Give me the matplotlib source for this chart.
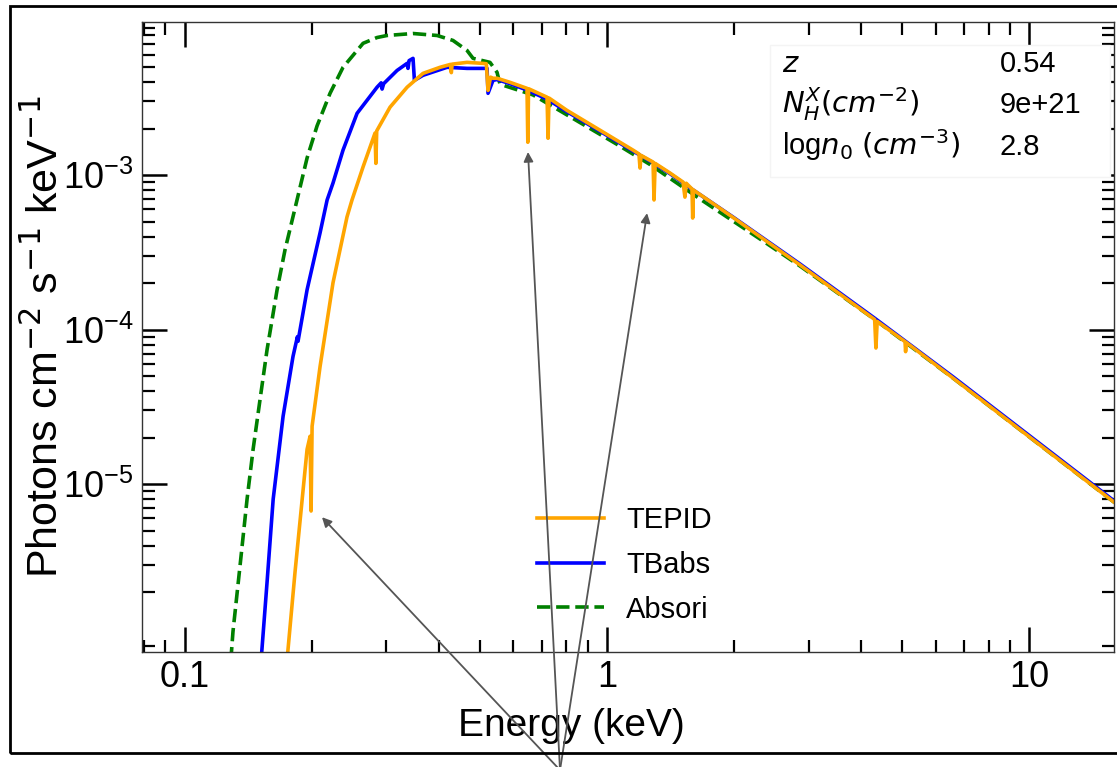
import matplotlib
matplotlib.use('Agg')
import matplotlib.pyplot as plt
from matplotlib.patches import Rectangle
from matplotlib import ticker

plt.rcParams['font.family'] = ['Liberation Sans', 'DejaVu Sans']

# ---------------- data ----------------
absori_E = [0.1267, 0.1302, 0.1353, 0.1406, 0.1453, 0.1509, 0.1568, 0.1656, 0.1729,
            0.1846, 0.1950, 0.2059, 0.2210, 0.2372, 0.2646, 0.2855, 0.3015, 0.3474,
            0.3960, 0.4319, 0.4663, 0.4818, 0.5284, 0.5491, 0.558, 0.668, 0.877,
            1.056, 1.264, 1.660, 2.391, 2.862, 4.309, 6.59, 15.85, 16.2]
absori_F = [4.1e-7, 1.11e-6, 2.96e-6, 8.0e-6, 1.68e-5, 3.53e-5, 7.43e-5, 1.81e-4, 3.28e-4,
            6.9e-4, 1.29e-3, 2.08e-3, 3.38e-3, 4.98e-3, 7.12e-3, 7.76e-3, 8.0e-3, 8.24e-3,
            8.0e-3, 7.43e-3, 6.4e-3, 5.69e-3, 5.36e-3, 4.62e-3, 3.87e-3, 3.3e-3, 2.13e-3,
            1.58e-3, 1.17e-3, 7.0e-4, 3.6e-4, 2.58e-4, 1.159e-4, 4.86e-5, 7.65e-6, 7.31e-6]

tbabs_E = [0.1493, 0.1525, 0.1568, 0.1621, 0.1711, 0.1806, 0.1850, 0.1856, 0.1950,
           0.2093, 0.2175, 0.2246, 0.2372, 0.2561, 0.2855, 0.2920, 0.2935, 0.2960,
           0.3184, 0.3363, 0.3380, 0.3400, 0.3474, 0.3500, 0.3668, 0.4182, 0.4663,
           0.5200, 0.5228, 0.5372, 0.5491, 0.5895, 0.6465, 0.7211, 0.804, 0.9626,
           1.152, 1.285, 1.41, 1.589, 1.987, 2.862, 4.309, 6.59, 15.85, 16.2]
tbabs_F = [4.1e-7, 8.6e-7, 2.33e-6, 8.0e-6, 2.75e-5, 6.7e-5, 9.0e-5, 8.4e-5, 1.81e-4,
           4.23e-4, 6.9e-4, 8.88e-4, 1.45e-3, 2.51e-3, 3.70e-3, 3.95e-3, 3.6e-3, 3.9e-3,
           4.75e-3, 5.28e-3, 4.9e-3, 5.5e-3, 5.69e-3, 4.1e-3, 4.42e-3, 4.98e-3, 4.9e-3,
           4.9e-3, 3.38e-3, 4.1e-3, 4.15e-3, 3.9e-3, 3.55e-3, 3.1e-3, 2.57e-3, 1.92e-3,
           1.43e-3, 1.20e-3, 1.02e-3, 8.1e-4, 5.35e-4, 2.66e-4, 1.18e-4, 4.95e-5, 7.8e-6, 7.45e-6]

tepid_E = [0.1715, 0.1758, 0.1826, 0.1950, 0.1982, 0.1993, 0.2004, 0.2093, 0.2246,
           0.2424, 0.2491, 0.2646, 0.2824, 0.2837, 0.2850, 0.3065, 0.3363, 0.3668,
           0.4025, 0.4260, 0.4280, 0.4300, 0.4663, 0.5087, 0.5180, 0.5228, 0.5300,
           0.5372, 0.5491, 0.5895, 0.6465, 0.6494, 0.6520, 0.7211, 0.7251, 0.7290,
           0.804, 0.9626, 1.152, 1.190, 1.197, 1.204, 1.285, 1.292, 1.300, 1.410,
           1.513, 1.529, 1.540, 1.589, 1.595, 1.602, 1.851, 1.987, 2.862, 4.300,
           4.330, 4.360, 5.074, 5.090, 5.110, 6.59, 15.85, 16.2]
tepid_F = [4.1e-7, 8.6e-7, 2.70e-6, 1.68e-5, 2.04e-5, 6.7e-6, 2.37e-5, 5.77e-5, 2.01e-4,
           5.36e-4, 6.9e-4, 1.13e-3, 1.87e-3, 1.19e-3, 1.93e-3, 2.75e-3, 3.70e-3, 4.55e-3,
           4.98e-3, 5.2e-3, 4.6e-3, 5.22e-3, 5.36e-3, 5.28e-3, 5.25e-3, 3.53e-3, 4.3e-3,
           4.23e-3, 4.23e-3, 3.98e-3, 3.64e-3, 1.63e-3, 3.62e-3, 3.19e-3, 1.73e-3, 3.15e-3,
           2.62e-3, 1.95e-3, 1.45e-3, 1.37e-3, 1.11e-3, 1.34e-3, 1.214e-3, 6.9e-4, 1.19e-3, 1.03e-3,
           9.01e-4, 7.2e-4, 8.85e-4, 8.12e-4, 5.27e-4, 8.0e-4, 6.09e-4, 5.32e-4, 2.62e-4, 1.163e-4,
           7.6e-5, 1.13e-4, 8.36e-5, 7.2e-5, 8.25e-5, 4.86e-5, 7.65e-6, 7.31e-6]

series_labels = ['TEPID', 'TBabs', 'Absori']

param_names = ['$z$', '$N_H^X(cm^{-2})$', 'log$n_0$ $(cm^{-3})$']
param_values = ['0.54', '9e+21', '2.8']

arrow_E = [0.2115, 0.650, 1.244]
arrow_F = [6.11e-6, 1.41e-3, 5.67e-4]

x_ticks = [0.1, 1, 10]
y_ticks = [1e-5, 1e-4, 1e-3]

# ---------------- figure ----------------
W, H = 1117, 767
fig = plt.figure(figsize=(W / 100, H / 100), dpi=100)
ax = fig.add_axes([142 / W, 1 - 652 / H, (1114 - 142) / W, (652 - 22) / H])

l_abs, = ax.plot(absori_E, absori_F, color='green', lw=2.6, ls='--', zorder=2.0, label=series_labels[2])
l_tb, = ax.plot(tbabs_E, tbabs_F, color='blue', lw=2.6, zorder=2.05, label=series_labels[1])
l_te, = ax.plot(tepid_E, tepid_F, color='orange', lw=2.6, zorder=2.1, label=series_labels[0])

ax.set_xscale('log')
ax.set_yscale('log')
ax.set_xlim(0.0793, 15.85)
ax.set_ylim(8.2e-7, 9.78e-3)

ax.xaxis.set_major_locator(ticker.FixedLocator(x_ticks))
ax.xaxis.set_major_formatter(ticker.FuncFormatter(lambda v, p: f'{v:g}'))
ax.xaxis.set_minor_locator(ticker.LogLocator(base=10, subs=range(2, 10), numticks=50))
ax.xaxis.set_minor_formatter(ticker.NullFormatter())
ax.yaxis.set_major_locator(ticker.FixedLocator(y_ticks))
ax.yaxis.set_major_formatter(ticker.LogFormatterSciNotation())
ax.yaxis.set_minor_locator(ticker.LogLocator(base=10, subs=range(2, 10), numticks=50))
ax.yaxis.set_minor_formatter(ticker.NullFormatter())

ax.tick_params(which='both', direction='in', top=True, right=True, colors='black')
ax.tick_params(which='major', length=18, width=1.8, labelsize=26, pad=6)
ax.tick_params(which='minor', length=9, width=1.6)
for s in ax.spines.values():
    s.set_linewidth(1.0)
    s.set_color('#333333')

ax.set_xlabel('Energy (keV)', fontsize=28)
ax.xaxis.set_label_coords(0.4414, -0.089)
ax.set_ylabel('Photons cm$^{-2}$ s$^{-1}$ keV$^{-1}$', fontsize=31)
ax.yaxis.set_label_coords(-0.077, 0.5)

leg = ax.legend(handles=[l_te, l_tb, l_abs], loc='center left',
                bbox_to_anchor=(0.4064, 0.1381), frameon=False, fontsize=21,
                handlelength=2.3, handletextpad=0.75, labelspacing=0.57,
                borderpad=0, borderaxespad=0)
leg.set_zorder(5)

# parameter box
box = Rectangle((0.646, 0.754), 0.35, 0.21, transform=ax.transAxes,
                facecolor='white', edgecolor='#f4f4f4', lw=1.0, zorder=2.2)
ax.add_patch(box)
row_y = [0.9206, 0.8556, 0.7889]
for name, val, yy in zip(param_names, param_values, row_y):
    ax.text(0.6584, yy, name, transform=ax.transAxes, fontsize=21,
            ha='left', va='baseline', zorder=6)
    ax.text(0.8827, yy, val, transform=ax.transAxes, fontsize=21,
            ha='left', va='baseline', zorder=6)

# arrows pointing to absorption features
for e, f in zip(arrow_E, arrow_F):
    ax.annotate('', xy=(e, f), xycoords='data', xytext=(560 / W, -0.004),
                textcoords='figure fraction', annotation_clip=False,
                arrowprops=dict(arrowstyle='-|>', color='#555555', lw=1.3,
                                mutation_scale=14, shrinkA=0, shrinkB=0),
                zorder=7)

# outer frame
frame = Rectangle((10 / W, 1 - 753 / H), 1.2, (753 - 6) / H, transform=fig.transFigure,
                  fill=False, edgecolor='black', lw=2.0, clip_on=False)
fig.add_artist(frame)

fig.savefig('out.png', dpi=100)
